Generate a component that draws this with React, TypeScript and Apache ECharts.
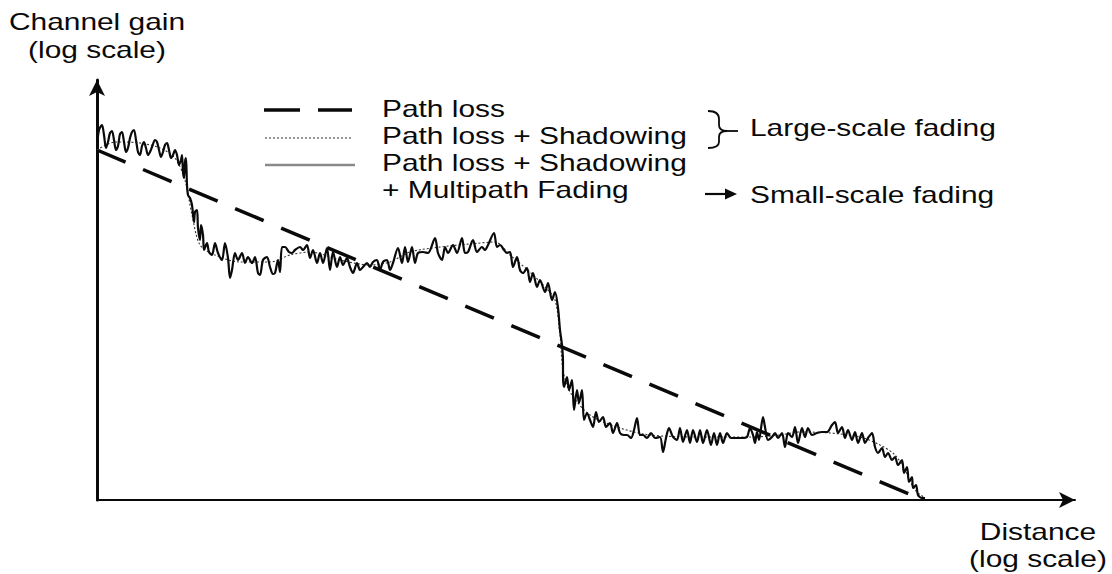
import React, { useEffect, useRef } from "react";
import * as echarts from "echarts";

// Values: distance (arbitrary log units) vs gain (arbitrary log units)
const pathLoss: number[][] = [
  [0, 350],
  [826, 0],
];

const shadowing: number[][] = [
  [0, 350], [18, 358], [43, 357], [63, 352], [78, 342], [88, 320], [95, 285], [103, 255],
  [118, 245], [143, 238], [173, 238], [193, 245], [213, 248], [243, 240], [273, 235],
  [293, 238], [313, 248], [343, 253], [373, 256], [398, 258], [413, 245], [433, 228],
  [448, 213], [458, 200], [463, 165], [466, 130], [473, 108], [493, 85], [523, 72],
  [553, 65], [603, 63], [653, 63], [683, 65], [703, 68], [733, 67], [763, 63], [783, 55],
  [798, 45], [808, 30], [818, 10], [828, 2],
];

const multipath: number[][] = [
  [0, 354], [2, 370], [5, 375], [7, 365], [9, 352], [11, 358], [13, 367], [15, 369], [17, 360],
  [19, 350], [21, 354], [23, 366], [25, 368], [27, 358], [29, 348], [31, 352], [33, 362],
  [35, 368], [37, 370], [39, 360], [41, 348], [43, 345], [45, 354], [47, 358], [49, 352],
  [51, 345], [53, 348], [55, 353], [58, 360], [60, 358], [62, 350], [64, 343], [66, 348],
  [68, 355], [70, 357], [72, 350], [74, 342], [76, 345], [78, 350], [80, 345], [82, 335],
  [84, 340], [85, 345], [86, 328], [87, 322], [88, 338], [89, 342], [90, 315], [91, 305],
  [93, 302], [95, 295], [97, 278], [98, 288], [100, 290], [101, 272], [103, 260], [104, 275],
  [106, 265], [107, 250], [109, 255], [110, 257], [112, 248], [115, 245], [118, 257],
  [121, 247], [125, 240], [128, 257], [131, 242], [133, 222], [135, 230], [138, 247],
  [141, 240], [145, 247], [148, 237], [151, 243], [155, 237], [158, 243], [161, 227],
  [163, 225], [166, 240], [170, 243], [173, 233], [176, 226], [178, 227], [181, 240],
  [183, 228], [185, 253], [188, 253], [192, 248], [195, 247], [198, 250], [203, 253],
  [206, 250], [210, 255], [213, 242], [216, 250], [220, 237], [223, 247], [226, 237],
  [230, 252], [233, 230], [236, 248], [240, 233], [243, 243], [246, 235], [250, 242],
  [253, 233], [256, 227], [260, 237], [263, 230], [266, 233], [270, 237], [273, 233],
  [276, 238], [280, 240], [283, 230], [286, 238], [290, 240], [293, 230], [296, 237],
  [301, 252], [305, 237], [308, 253], [311, 238], [315, 253], [318, 237], [321, 247],
  [326, 248], [331, 247], [338, 262], [341, 247], [345, 240], [348, 253], [351, 247],
  [356, 255], [360, 247], [365, 262], [368, 247], [371, 248], [376, 260], [380, 248],
  [385, 253], [388, 250], [391, 255], [397, 267], [400, 253], [403, 255], [407, 250],
  [410, 247], [413, 248], [416, 233], [420, 243], [423, 230], [426, 227], [430, 232],
  [433, 218], [436, 227], [440, 213], [443, 220], [448, 208], [451, 217], [455, 200],
  [458, 208], [461, 192], [463, 170], [465, 155], [466, 138], [466, 125], [467, 113],
  [470, 123], [472, 110], [475, 120], [477, 90], [480, 110], [482, 97], [485, 110],
  [487, 80], [490, 87], [493, 80], [496, 73], [499, 88], [502, 78], [506, 83], [509, 73],
  [513, 77], [516, 67], [520, 77], [523, 67], [527, 65], [530, 65], [534, 62], [537, 70],
  [540, 82], [543, 65], [546, 65], [550, 62], [554, 67], [558, 62], [563, 63], [566, 48],
  [569, 62], [572, 72], [576, 63], [580, 60], [583, 72], [586, 58], [590, 70], [593, 57],
  [596, 70], [600, 58], [603, 70], [606, 57], [610, 70], [614, 55], [617, 67], [620, 55],
  [623, 67], [626, 57], [630, 67], [634, 62], [640, 62], [645, 62], [650, 63], [653, 72],
  [656, 65], [658, 57], [660, 68], [662, 60], [666, 83], [668, 73], [671, 60], [675, 63],
  [678, 67], [681, 62], [685, 67], [688, 53], [691, 67], [695, 63], [698, 73], [701, 57],
  [705, 72], [708, 63], [711, 72], [715, 65], [720, 67], [725, 68], [730, 68], [735, 75],
  [738, 78], [741, 67], [745, 73], [748, 62], [751, 70], [755, 60], [758, 68], [761, 57],
  [765, 67], [768, 57], [771, 62], [775, 67], [778, 53], [781, 47], [785, 52], [788, 43],
  [791, 47], [795, 40], [798, 43], [801, 35], [805, 40], [807, 27], [810, 33], [812, 18],
  [815, 23], [816, 12], [819, 15], [821, 5], [825, 2], [828, 2],
];

const legendLabels = [
  "Path loss",
  "Path loss + Shadowing",
  "Path loss + Shadowing",
  "+ Multipath Fading",
];
const yAxisTitle = ["Channel gain", "(log scale)"];
const xAxisTitle = ["Distance", "(log scale)"];
const annotationLabels = ["Large-scale fading", "Small-scale fading"];

const FONT = "'Liberation Sans', Arial, Helvetica, sans-serif";
const INK = "#0a0a0a";
const FS = 23;
const SX = 1.3;

function label(text: string, x: number, y: number, align: string) {
  return {
    type: "text",
    x,
    y,
    scaleX: SX,
    silent: true,
    style: {
      text,
      fill: INK,
      fontFamily: FONT,
      fontSize: FS,
      textAlign: align,
      textVerticalAlign: "middle",
    },
  };
}

export default function App() {
  const ref = useRef<HTMLDivElement>(null);

  useEffect(() => {
    if (!ref.current) return;
    const chart = echarts.init(ref.current, undefined, { renderer: "svg" });

    const brace = { stroke: INK, lineWidth: 1.8, fill: "none" };
    const graphic: any[] = [
      // axis titles
      label(yAxisTitle[0], 97, 22, "center"),
      label(yAxisTitle[1], 97, 50, "center"),
      label(xAxisTitle[0], 1038, 532, "center"),
      label(xAxisTitle[1], 1038, 559, "center"),
      // legend samples
      {
        type: "polyline",
        silent: true,
        shape: { points: [[264, 110], [352, 110]] },
        style: { stroke: INK, lineWidth: 3.5, lineDash: [36, 18], fill: "none" },
      },
      {
        type: "polyline",
        silent: true,
        shape: { points: [[265, 138], [353, 138]] },
        style: { stroke: "#333", lineWidth: 1.2, lineDash: [2, 2], fill: "none" },
      },
      {
        type: "polyline",
        silent: true,
        shape: { points: [[265, 165], [355, 165]] },
        style: { stroke: "#8a8a8a", lineWidth: 2.5, fill: "none" },
      },
      // legend labels
      label(legendLabels[0], 382, 109, "left"),
      label(legendLabels[1], 382, 136, "left"),
      label(legendLabels[2], 382, 163, "left"),
      label(legendLabels[3], 382, 190, "left"),
      // brace
      {
        type: "group",
        silent: true,
        children: [
          { type: "bezierCurve", shape: { x1: 708, y1: 111, x2: 719, y2: 119, cpx1: 719, cpy1: 111 }, style: brace },
          { type: "line", shape: { x1: 719, y1: 119, x2: 719, y2: 125 }, style: brace },
          { type: "bezierCurve", shape: { x1: 719, y1: 125, x2: 727, y2: 131, cpx1: 719, cpy1: 131 }, style: brace },
          { type: "bezierCurve", shape: { x1: 727, y1: 131, x2: 719, y2: 137, cpx1: 719, cpy1: 131 }, style: brace },
          { type: "line", shape: { x1: 719, y1: 137, x2: 719, y2: 142 }, style: brace },
          { type: "bezierCurve", shape: { x1: 719, y1: 142, x2: 708, y2: 148, cpx1: 719, cpy1: 148 }, style: brace },
          { type: "line", shape: { x1: 727, y1: 131, x2: 738, y2: 131 }, style: brace },
        ],
      },
      label(annotationLabels[0], 750, 128, "left"),
      // arrow for small-scale
      {
        type: "line",
        silent: true,
        shape: { x1: 705, y1: 194, x2: 728, y2: 194 },
        style: { stroke: INK, lineWidth: 2.2 },
      },
      {
        type: "polygon",
        silent: true,
        shape: { points: [[725, 188.5], [737, 194], [725, 199.5]] },
        style: { fill: INK },
      },
      label(annotationLabels[1], 750, 195, "left"),
    ];

    chart.setOption({
      animation: false,
      backgroundColor: "#fff",
      grid: { left: 97, right: 37, top: 80, bottom: 74, containLabel: false },
      xAxis: {
        type: "value",
        min: 0,
        max: 978,
        axisLine: {
          show: true,
          onZero: false,
          symbol: ["none", "arrow"],
          symbolSize: [12, 16],
          lineStyle: { color: INK, width: 2 },
        },
        axisTick: { show: false },
        axisLabel: { show: false },
        splitLine: { show: false },
      },
      yAxis: {
        type: "value",
        min: 0,
        max: 420,
        axisLine: {
          show: true,
          onZero: false,
          symbol: ["none", "arrow"],
          symbolSize: [12, 16],
          lineStyle: { color: INK, width: 3 },
        },
        axisTick: { show: false },
        axisLabel: { show: false },
        splitLine: { show: false },
      },
      series: [
        {
          name: legendLabels[0],
          type: "line",
          data: pathLoss,
          showSymbol: false,
          lineStyle: { color: INK, width: 3.5, type: [31, 19] },
          z: 2,
        },
        {
          name: legendLabels[1],
          type: "line",
          data: shadowing,
          showSymbol: false,
          smooth: 0.3,
          lineStyle: { color: "#333", width: 1.1, type: [2, 2] },
          z: 3,
        },
        {
          name: legendLabels[2] + " " + legendLabels[3],
          type: "line",
          data: multipath,
          showSymbol: false,
          smooth: 0.3,
          lineStyle: { color: INK, width: 2.2 },
          z: 4,
        },
      ],
      graphic,
    });

    return () => chart.dispose();
  }, []);

  return (
    <div
      ref={ref}
      style={{ position: "fixed", left: 0, top: 0, width: 1112, height: 574, background: "#fff" }}
    />
  );
}
